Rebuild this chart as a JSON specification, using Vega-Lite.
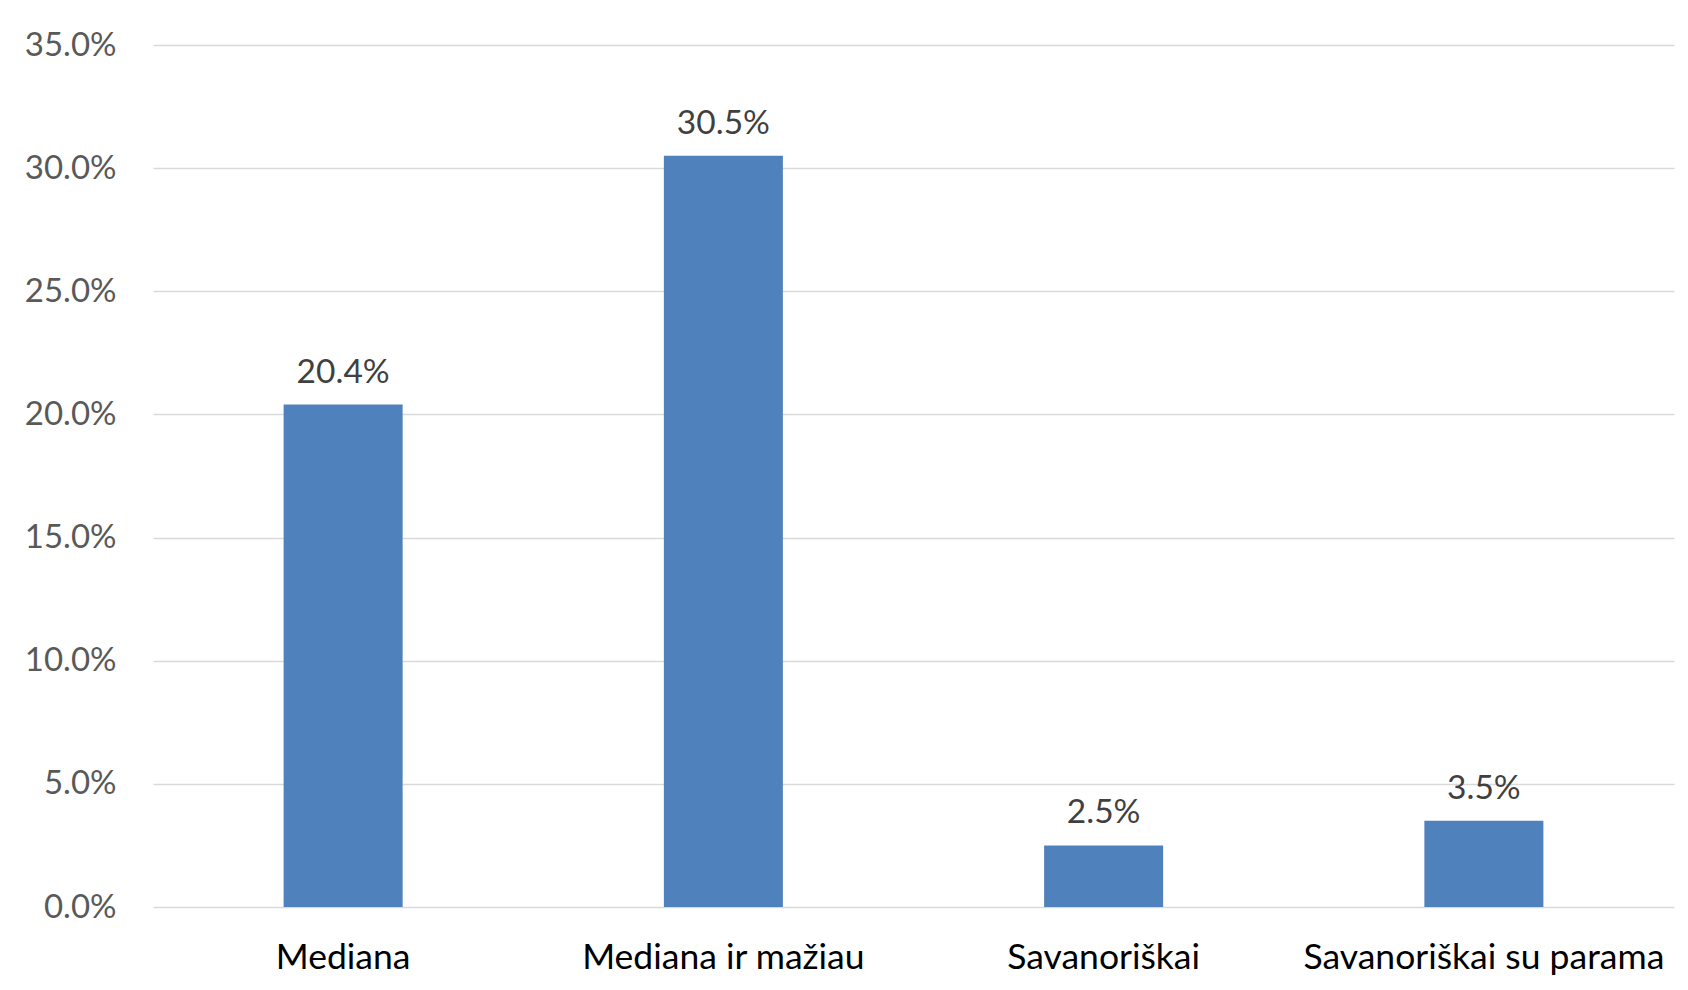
{
  "$schema": "https://vega.github.io/schema/vega-lite/v6.json",
  "autosize": {"type": "none"},
  "width": 1521,
  "height": 862,
  "padding": {"left": 153, "top": 45, "right": 14, "bottom": 83},
  "background": "#ffffff",
  "data": {
    "values": [
      {"category": "Mediana", "share": 0.204},
      {"category": "Mediana ir mažiau", "share": 0.305},
      {"category": "Savanoriškai", "share": 0.025},
      {"category": "Savanoriškai su parama", "share": 0.035}
    ]
  },
  "encoding": {
    "x": {
      "field": "category",
      "type": "nominal",
      "sort": null,
      "scale": {"paddingInner": 0.687, "paddingOuter": 0.3435},
      "axis": {
        "title": null,
        "labelAngle": 0,
        "labelFont": "Lato",
        "labelFontSize": 35.5,
        "labelColor": "#000000",
        "labelLimit": 0,
        "labelPadding": 33,
        "ticks": false,
        "tickSize": 0,
        "domain": false,
        "grid": false
      }
    },
    "y": {
      "field": "share",
      "type": "quantitative",
      "scale": {"domain": [0, 0.35], "nice": false},
      "axis": {
        "title": null,
        "format": ".1%",
        "values": [0, 0.05, 0.1, 0.15, 0.2, 0.25, 0.3, 0.35],
        "labelFont": "Lato",
        "labelFontSize": 33,
        "labelColor": "#595959",
        "labelPadding": 37,
        "ticks": false,
        "tickSize": 0,
        "domain": false,
        "grid": true,
        "gridColor": "#d9d9d9",
        "gridWidth": 1.5
      }
    }
  },
  "layer": [
    {"mark": {"type": "bar", "color": "#4f81bd"}},
    {
      "mark": {
        "type": "text",
        "baseline": "alphabetic",
        "dy": -22,
        "font": "Lato",
        "fontSize": 33.5,
        "color": "#404040"
      },
      "encoding": {"text": {"field": "share", "type": "quantitative", "format": ".1%"}}
    }
  ],
  "config": {"view": {"stroke": null}}
}
